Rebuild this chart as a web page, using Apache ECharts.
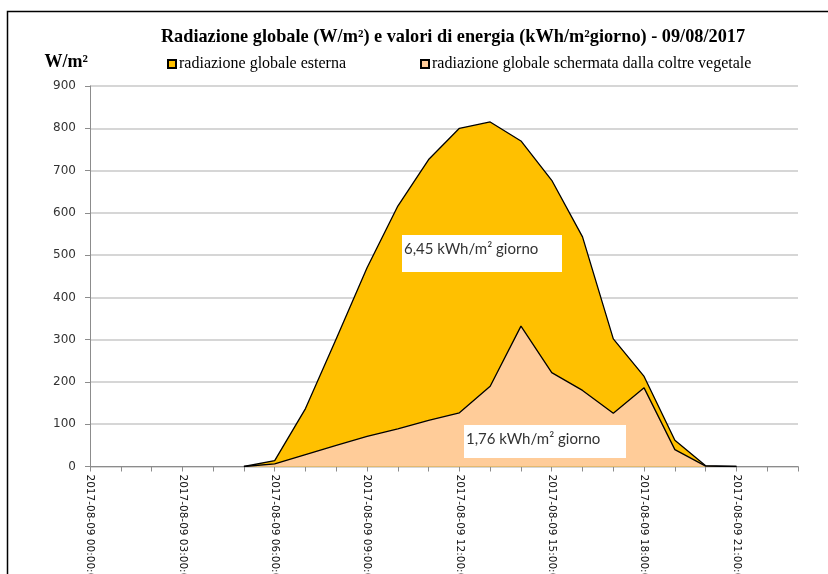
<!DOCTYPE html>
<html>
<head>
<meta charset="utf-8">
<script src="https://cdn.jsdelivr.net/npm/echarts@6/dist/echarts.min.js"></script>
<style>
html,body{margin:0;padding:0;background:#fff;}
#c{width:828px;height:574px;}
</style>
</head>
<body>
<div id="c"></div>
<script>
const hours = ['00','01','02','03','04','05','06','07','08','09','10','11','12','13','14','15','16','17','18','19','20','21','22','23'];
const categories = hours.map(h => '2017-08-09 ' + h + ':00:00');
const esterna = [null,null,null,null,null,0,14,137,302,470,616,726,800,815,770,677,543,302,213,62,2,0,null,null];
const schermata = [null,null,null,null,null,0,6,28,50,71,89,109,127,190,332,222,180,126,186,40,1,0,null,null];
const seriesNames = ['radiazione globale esterna','radiazione globale schermata dalla coltre vegetale'];
const titleText = 'Radiazione globale (W/m²) e valori di energia (kWh/m²giorno) - 09/08/2017';
const yUnit = 'W/m²';
const annotations = ['6,45 kWh/m² giorno','1,76 kWh/m² giorno'];

const chart = echarts.init(document.getElementById('c'), null, {renderer:'canvas'});
const serif = '"Liberation Serif","Times New Roman",serif';
chart.setOption({
  animation:false,
  backgroundColor:'#fff',
  title:{
    text:titleText, left:448, top:23, textAlign:'center',
    textStyle:{fontFamily:serif,fontWeight:'bold',fontSize:18.3,color:'#000'}
  },
  legend:[
    {data:[seriesNames[0]], left:162, top:51, icon:'rect', itemWidth:8, itemHeight:8, itemGap:6,
     textStyle:{fontFamily:serif,fontSize:16,color:'#000',padding:[0,0,0,-2]}},
    {data:[seriesNames[1]], left:415, top:51, icon:'rect', itemWidth:8, itemHeight:8, itemGap:6,
     textStyle:{fontFamily:serif,fontSize:16,color:'#000',padding:[0,0,0,-2]}}
  ],
  grid:{left:90, right:30, top:86, bottom:107.5, containLabel:false, outerBoundsMode:'none'},
  xAxis:{
    type:'category', data:categories, boundaryGap:false,
    axisLine:{lineStyle:{color:'#8c8c8c',width:1}},
    axisTick:{show:true,interval:0,length:5,lineStyle:{color:'#8c8c8c'}},
    axisLabel:{interval:2, rotate:-90, margin:8, fontFamily:'"DejaVu Sans",sans-serif', fontSize:10.5, color:'#111'},
    splitLine:{show:false}
  },
  yAxis:{
    type:'value', min:0, max:900, interval:100,
    name:yUnit, nameLocation:'end', nameGap:15,
    nameTextStyle:{fontFamily:serif,fontWeight:'bold',fontSize:18,color:'#000',align:'right',padding:[0,2,0,0]},
    axisLine:{show:true,lineStyle:{color:'#8c8c8c'}},
    axisTick:{show:true,length:5,lineStyle:{color:'#8c8c8c'}},
    axisLabel:{fontFamily:'"DejaVu Sans",sans-serif',fontSize:12,color:'#333',margin:14},
    splitLine:{lineStyle:{color:'#c8c8c8',width:1.5}}
  },
  series:[
    {name:seriesNames[0], type:'line', data:esterna, showSymbol:false, symbol:'none',
     itemStyle:{color:'#FFC000',borderColor:'#000',borderWidth:1},
     lineStyle:{color:'#000',width:1.3}, areaStyle:{color:'#FFC000',opacity:1}, z:2},
    {name:seriesNames[1], type:'line', data:schermata, showSymbol:false, symbol:'none',
     itemStyle:{color:'#FFCC99',borderColor:'#000',borderWidth:1},
     lineStyle:{color:'#000',width:1.3}, areaStyle:{color:'#FFCC99',opacity:1}, z:3}
  ],
  graphic:[
    {type:'rect', left:5, top:9, shape:{width:900,height:800}, style:{fill:null,stroke:'#000',lineWidth:1.5}, silent:true, z:100},
    {type:'rect', left:402, top:235, shape:{width:160,height:37}, style:{fill:'#fff'}, z:50},
    {type:'text', left:404, top:242, style:{text:annotations[0], fill:'#333', font:'15px Lato, "Open Sans", sans-serif'}, z:51},
    {type:'rect', left:464, top:425, shape:{width:162,height:33}, style:{fill:'#fff'}, z:50},
    {type:'text', left:466, top:432, style:{text:annotations[1], fill:'#333', font:'15px Lato, "Open Sans", sans-serif'}, z:51}
  ]
});
</script>
</body>
</html>
